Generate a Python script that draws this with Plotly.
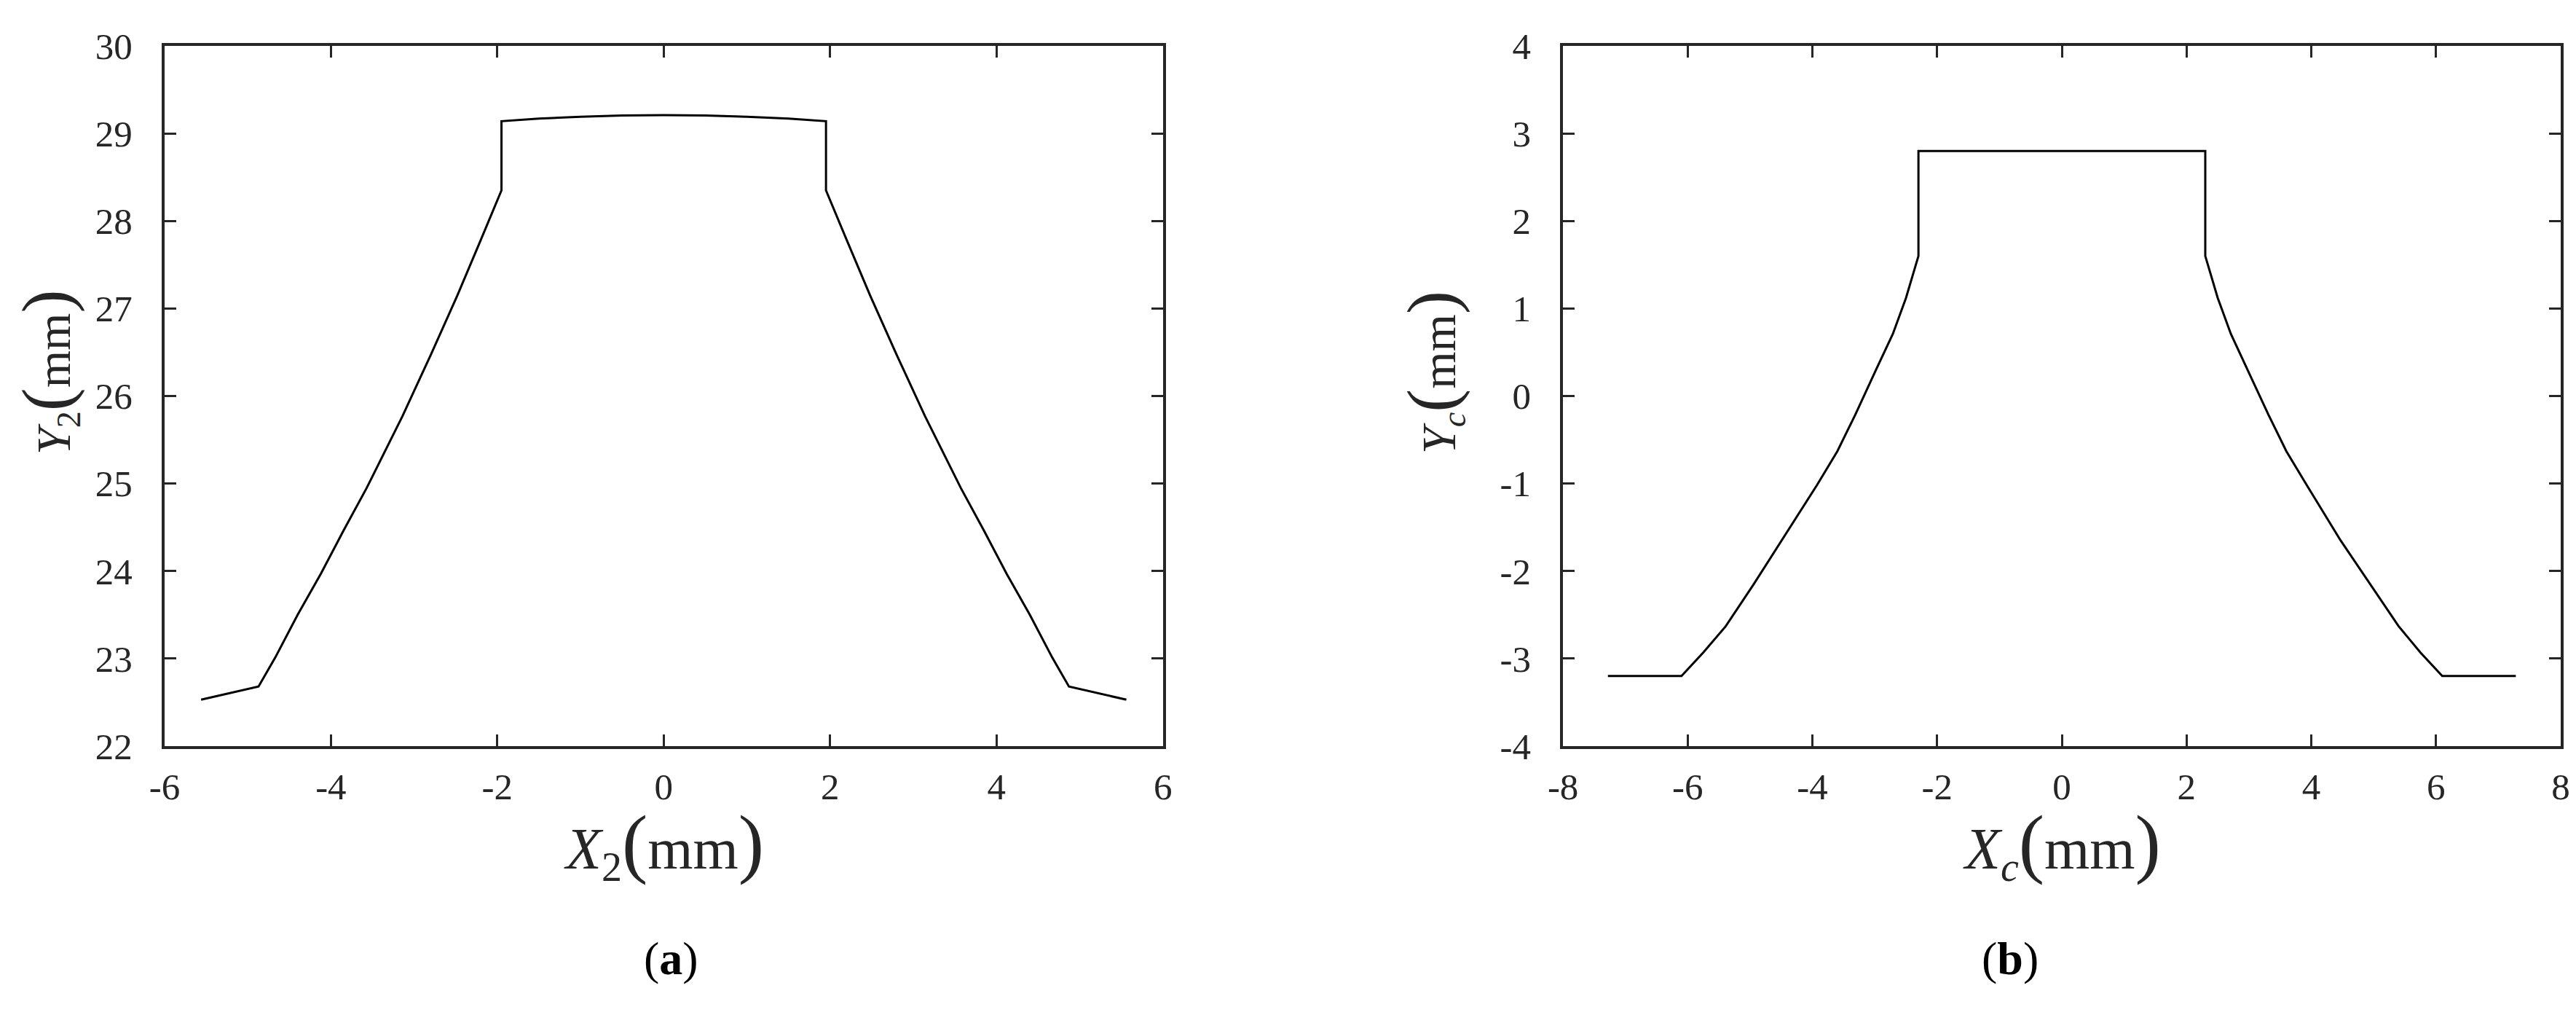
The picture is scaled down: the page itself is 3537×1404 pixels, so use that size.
import plotly.graph_objects as go

# panel (a): gear tooth profile in X2/Y2 frame (mm)
xa = [-5.56, -4.87, -4.67, -4.4, -4.12, -3.85, -3.57, -3.14, -2.8, -2.48, -2.2, -1.95, -1.95,
      -1.5, -1.0, -0.5, 0.0, 0.5, 1.0, 1.5, 1.95, 1.95, 2.2, 2.48, 2.8, 3.14, 3.57, 3.85,
      4.12, 4.4, 4.67, 4.87, 5.56]
ya = [22.53, 22.68, 23.01, 23.5, 23.97, 24.46, 24.95, 25.77, 26.47, 27.15, 27.78, 28.35, 29.14,
      29.17, 29.19, 29.205, 29.21, 29.205, 29.19, 29.17, 29.14, 28.35, 27.78, 27.15, 26.47, 25.77,
      24.95, 24.46, 23.97, 23.5, 23.01, 22.68, 22.53]

# panel (b): cutter profile in Xc/Yc frame (mm)
xb = [-7.28, -6.1, -5.75, -5.39, -4.95, -4.49, -3.92, -3.6, -3.31, -3.0, -2.71, -2.5, -2.3, -2.3,
      2.3, 2.3, 2.5, 2.71, 3.0, 3.31, 3.6, 3.92, 4.47, 4.95, 5.4, 5.75, 6.1, 7.28]
yb = [-3.2, -3.2, -2.93, -2.63, -2.16, -1.65, -1.01, -0.63, -0.21, 0.27, 0.71, 1.12, 1.6, 2.8,
      2.8, 1.6, 1.12, 0.71, 0.27, -0.21, -0.63, -1.01, -1.65, -2.16, -2.63, -2.93, -3.2, -3.2]

xa_ticks = [-6, -4, -2, 0, 2, 4, 6]
ya_ticks = [22, 23, 24, 25, 26, 27, 28, 29, 30]
xb_ticks = [-8, -6, -4, -2, 0, 2, 4, 6, 8]
yb_ticks = [-4, -3, -2, -1, 0, 1, 2, 3, 4]

FONT = "Liberation Serif, Times New Roman, serif"
AX = "#262626"

fig = go.Figure()
fig.add_trace(go.Scatter(x=xa, y=ya, mode="lines", line=dict(color="black", width=3),
                         xaxis="x", yaxis="y", showlegend=False))
fig.add_trace(go.Scatter(x=xb, y=yb, mode="lines", line=dict(color="black", width=3),
                         xaxis="x2", yaxis="y2", showlegend=False))

def lab(v):
    return [str(t) for t in v]

axis_common = dict(showline=True, linecolor=AX, linewidth=4, mirror="ticks",
                   ticks="inside", ticklen=16, tickwidth=3, tickcolor=AX,
                   showgrid=False, zeroline=False, tickmode="array", automargin=False,
                   tickfont=dict(family=FONT, size=51, color=AX))

fig.update_layout(
    width=3537, height=1404,
    paper_bgcolor="white", plot_bgcolor="white",
    margin=dict(l=0, r=0, t=0, b=0),
    xaxis=dict(domain=[0.0616, 0.4492], range=[-6, 6], anchor="y",
               tickvals=xa_ticks, ticktext=lab(xa_ticks), ticklabelstandoff=8, **axis_common),
    yaxis=dict(domain=[0.2764, 0.9608], range=[22, 30], anchor="x",
               tickvals=ya_ticks, ticktext=lab(ya_ticks), ticklabelstandoff=30, **axis_common),
    xaxis2=dict(domain=[0.6045, 0.9918], range=[-8, 8], anchor="y2",
                tickvals=xb_ticks, ticktext=lab(xb_ticks), ticklabelstandoff=8, **axis_common),
    yaxis2=dict(domain=[0.2764, 0.9608], range=[-4, 4], anchor="x2",
                tickvals=yb_ticks, ticktext=lab(yb_ticks), ticklabelstandoff=30, **axis_common),
)

def mm(size):
    return (f"<span style='font-size:{size}px'>(</span>mm"
            f"<span style='font-size:{size}px'>)</span>")

xt = dict(family=FONT, size=80, color=AX)
yt = dict(family=FONT, size=66, color=AX)
ymid = 1 - 503 / 1404
annots = [
    dict(x=(0.0616 + 0.4492) / 2, y=1 - 1151 / 1404, text="<i>X</i><sub>2</sub>" + mm(106),
         xanchor="center", font=xt),
    dict(x=(0.6045 + 0.9918) / 2, y=1 - 1151 / 1404, text="<i>X</i><sub><i>c</i></sub>" + mm(106),
         xanchor="center", font=xt),
    dict(x=0, y=ymid, text="<i>Y</i><sub>2</sub>" + mm(96), textangle=-90,
         xanchor="left", font=yt),
    dict(x=1902 / 3537, y=ymid, text="<i>Y</i><sub><i>c</i></sub>" + mm(96), textangle=-90,
         xanchor="left", font=yt),
]
for a in annots:
    fig.add_annotation(xref="paper", yref="paper", showarrow=False, yanchor="middle", **a)

fig.add_annotation(x=874 / 3537, y=1 - 1345 / 1404, xref="paper", yref="paper", showarrow=False,
                   text="(<b>a</b>)", font=dict(family=FONT, size=64, color="black"))
fig.add_annotation(x=2793 / 3537, y=1 - 1345 / 1404, xref="paper", yref="paper", showarrow=False,
                   text="(<b>b</b>)", font=dict(family=FONT, size=64, color="black"))

fig.write_html("out.html")
